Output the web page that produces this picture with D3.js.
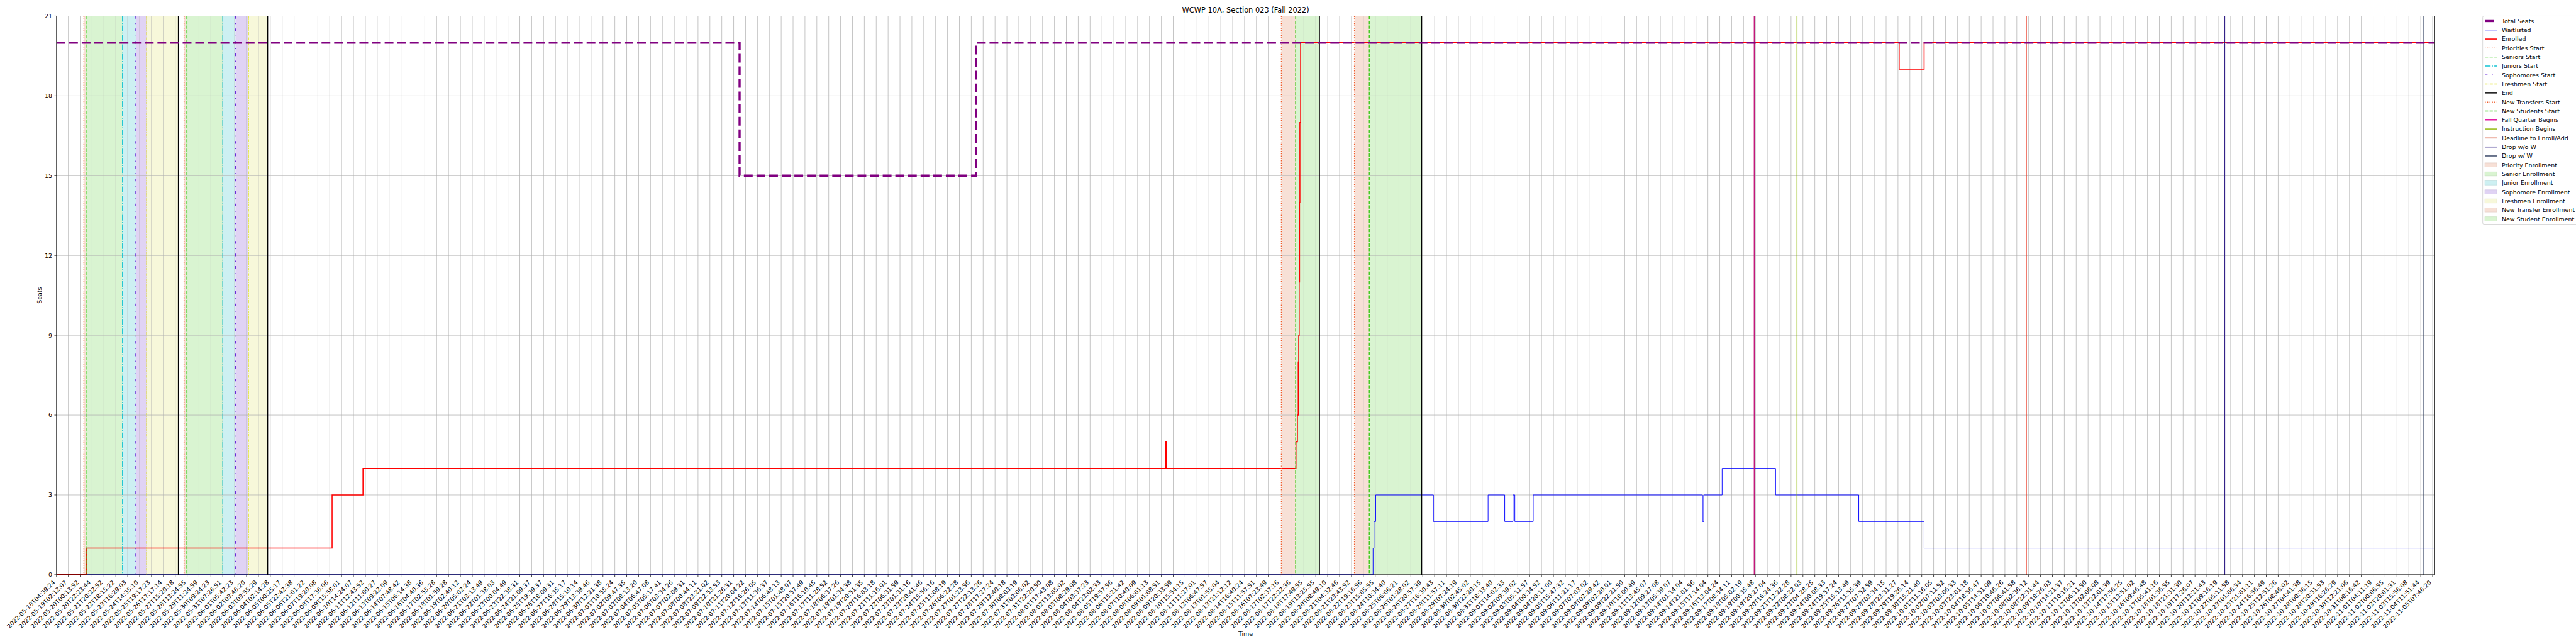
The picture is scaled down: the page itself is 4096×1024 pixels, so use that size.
<!DOCTYPE html>
<html><head><meta charset="utf-8">
<script src="https://cdn.jsdelivr.net/npm/d3@7"></script>
<style>html,body{margin:0;padding:0;background:#fff;overflow:hidden}</style>
</head><body>
<svg id="chart" width="4096" height="1024" viewBox="0 0 6000 1500"></svg>
<script>
// ---------------- DATA ----------------
const title = "WCWP 10A, Section 023 (Fall 2022)";
const tickLabels = [
"2022-05-18T04:39:24","2022-05-19T02:12:07","2022-05-20T00:13:52","2022-05-20T22:23:44","2022-05-21T20:22:52",
"2022-05-22T18:15:22","2022-05-23T16:29:03","2022-05-24T14:35:10","2022-05-25T19:17:23","2022-05-26T17:17:14",
"2022-05-27T15:20:18","2022-05-28T13:24:55","2022-05-29T11:24:59","2022-05-30T09:24:23","2022-05-31T07:26:51",
"2022-06-01T05:42:23","2022-06-02T03:46:20","2022-06-03T03:55:29","2022-06-04T02:14:28","2022-06-05T00:25:17",
"2022-06-05T22:42:38","2022-06-06T21:01:22","2022-06-07T19:20:08","2022-06-08T17:36:06","2022-06-09T15:58:01",
"2022-06-10T14:24:07","2022-06-11T12:43:52","2022-06-12T11:00:27","2022-06-13T09:22:09","2022-06-14T07:48:42",
"2022-06-15T06:14:38","2022-06-16T04:40:36","2022-06-17T02:55:28","2022-06-18T01:59:28","2022-06-19T02:40:12",
"2022-06-20T05:02:24","2022-06-21T03:13:49","2022-06-22T01:38:03","2022-06-23T00:04:49","2022-06-23T22:38:31",
"2022-06-24T21:09:37","2022-06-25T19:39:37","2022-06-26T18:09:31","2022-06-27T16:35:17","2022-06-28T15:10:14",
"2022-06-29T13:39:46","2022-06-30T12:21:38","2022-07-01T10:55:24","2022-07-02T09:47:35","2022-07-03T08:13:20",
"2022-07-04T06:47:08","2022-07-05T05:17:41","2022-07-06T03:34:26","2022-07-07T02:09:31","2022-07-08T00:44:11",
"2022-07-08T23:21:02","2022-07-09T22:53:53","2022-07-10T21:26:31","2022-07-11T20:04:22","2022-07-12T16:26:05",
"2022-07-13T11:36:37","2022-07-14T06:48:13","2022-07-15T01:48:07","2022-07-15T20:57:49","2022-07-16T16:10:45",
"2022-07-17T11:28:52","2022-07-18T06:37:26","2022-07-19T01:34:38","2022-07-19T20:51:35","2022-07-20T16:03:18",
"2022-07-21T11:16:01","2022-07-22T06:31:59","2022-07-23T01:31:16","2022-07-23T20:41:46","2022-07-24T15:56:16",
"2022-07-25T11:08:19","2022-07-26T06:22:28","2022-07-27T01:23:56","2022-07-27T22:13:26","2022-07-28T17:27:24",
"2022-07-29T12:40:18","2022-07-30T08:03:19","2022-07-31T03:06:02","2022-07-31T22:20:50","2022-08-01T17:43:08",
"2022-08-02T13:05:02","2022-08-03T08:29:08","2022-08-04T03:37:23","2022-08-04T23:02:33","2022-08-05T19:57:56",
"2022-08-06T15:21:42","2022-08-07T10:40:09","2022-08-08T06:01:13","2022-08-09T01:08:51","2022-08-09T20:33:59",
"2022-08-10T15:54:15","2022-08-11T11:27:01","2022-08-12T06:47:57","2022-08-13T01:55:04","2022-08-13T21:12:12",
"2022-08-14T16:40:24","2022-08-15T11:57:51","2022-08-16T07:23:49","2022-08-17T02:37:16","2022-08-17T22:22:36",
"2022-08-18T17:49:55","2022-08-19T13:25:55","2022-08-20T08:49:10","2022-08-21T04:32:46","2022-08-21T23:43:52",
"2022-08-22T19:16:56","2022-08-23T15:05:55","2022-08-24T10:34:40","2022-08-25T06:06:21","2022-08-26T01:28:02",
"2022-08-26T20:57:39","2022-08-27T16:30:43","2022-08-28T11:57:11","2022-08-29T07:24:19","2022-08-30T02:45:02",
"2022-08-30T22:20:15","2022-08-31T18:33:40","2022-09-01T14:02:33","2022-09-02T09:39:02","2022-09-03T05:11:57",
"2022-09-04T00:34:52","2022-09-04T20:11:00","2022-09-05T15:47:32","2022-09-06T11:21:17","2022-09-07T07:03:02",
"2022-09-08T02:29:42","2022-09-09T02:20:01","2022-09-09T22:21:50","2022-09-10T18:00:49","2022-09-11T13:45:07",
"2022-09-12T09:27:08","2022-09-13T05:39:07","2022-09-14T01:14:04","2022-09-14T21:01:56","2022-09-15T17:14:04",
"2022-09-16T13:04:24","2022-09-17T08:54:11","2022-09-18T05:02:19","2022-09-19T00:35:48","2022-09-19T20:27:04",
"2022-09-20T16:24:36","2022-09-21T12:22:28","2022-09-22T08:22:03","2022-09-23T04:28:25","2022-09-24T00:08:33",
"2022-09-24T19:57:24","2022-09-25T15:53:49","2022-09-26T11:55:39","2022-09-27T07:52:59","2022-09-28T03:34:15",
// the labels below are estimates (too small to read in the reference)
"2022-09-28T23:31:27","2022-09-29T19:26:14","2022-09-30T15:21:40","2022-10-01T11:16:05","2022-10-02T07:11:52",
"2022-10-03T03:06:33","2022-10-03T23:01:18","2022-10-04T18:56:47","2022-10-05T14:51:09","2022-10-06T10:46:26",
"2022-10-07T06:41:58","2022-10-08T02:36:12","2022-10-08T22:31:44","2022-10-09T18:26:03","2022-10-10T14:21:37",
"2022-10-11T10:16:21","2022-10-12T06:11:50","2022-10-13T02:06:08","2022-10-13T22:01:39","2022-10-14T17:56:25",
"2022-10-15T13:51:02","2022-10-16T09:46:48","2022-10-17T05:41:16","2022-10-18T01:36:55","2022-10-18T21:31:30",
"2022-10-19T17:26:07","2022-10-20T13:21:43","2022-10-21T09:16:19","2022-10-22T05:11:58","2022-10-23T01:06:34",
"2022-10-23T21:01:11","2022-10-24T16:56:49","2022-10-25T12:51:26","2022-10-26T08:46:02","2022-10-27T04:41:38",
"2022-10-28T00:36:15","2022-10-28T20:31:53","2022-10-29T16:26:29","2022-10-30T12:21:06","2022-10-31T08:16:42",
"2022-11-01T04:11:19","2022-11-02T00:06:55","2022-11-02T20:01:31","2022-11-03T15:56:08","2022-11-04T11:51:44",
"2022-11-05T07:46:20"
];
const xMax = 200.18;            // end of the data (in tick units)
const yTicks = [0, 3, 6, 9, 12, 15, 18, 21];

// step series: x = change points (tick units), y = value from that point on
const seatsX = [0, 57.5, 77.4];
const seatsY = [20, 15, 20];
const enrolledX = [0, 2.53, 23.2, 25.8, 93.35, 93.42, 104.33, 104.45, 104.52, 104.56, 104.6, 104.63, 104.66, 104.72, 155.1, 157.2];
const enrolledY = [0, 1, 3, 4, 5, 4, 5, 6, 8, 9, 11, 14, 17, 20, 19, 20];
const waitX = [0, 110.82, 110.9, 111.04, 115.9, 120.5, 121.9, 122.6, 122.75, 124.3, 138.55, 138.65, 140.2, 144.7, 151.7, 157.2];
const waitY = [0, 1, 2, 3, 2, 3, 2, 3, 2, 3, 2, 3, 4, 3, 2, 1];

// event lines (tick units)
const priorityStart = [2.31, 10.74];
const seniorsStart = [2.49, 10.91];
const juniorsStart = [5.56, 14.0];
const sophomoresStart = [6.68, 15.07];
const freshmenStart = [7.59, 16.16];
const endLines = [10.27, 17.77, 106.3, 114.9];
const newTransfersStart = [103.1, 109.25];
const newStudentsStart = [104.3, 110.5];
const fallQuarterBegins = [142.9];
const instructionBegins = [146.5];
const deadlineEnrollAdd = [165.8];
const dropNoW = [182.5];
const dropW = [199.2];

// shaded spans [start, end]
const prioritySpans = [[2.31, 2.49], [10.74, 10.91]];
const seniorSpans = [[2.49, 5.56], [10.91, 14.0]];
const juniorSpans = [[5.56, 6.68], [14.0, 15.07]];
const sophomoreSpans = [[6.68, 7.59], [15.07, 16.16]];
const freshmenSpans = [[7.59, 10.27], [16.16, 17.77]];
const newTransferSpans = [[103.1, 104.3], [109.25, 110.5]];
const newStudentSpans = [[104.3, 106.3], [110.5, 114.9]];

// ---------------- STYLE ----------------
const C = {
  seats: "#800080", wait: "#0000ff", enr: "#ff0000",
  prio: "#f05a28", sen: "#3fc91c", jun: "#12c3d3", soph: "#6a2bd9", fresh: "#e0e02a",
  end: "#000000", fall: "#c2187a", instr: "#8db600", dead: "#e8321e", dropNo: "#332288", dropW: "#2f3e5f",
  fPrio: "#f7e0d6", fSen: "#d9f4d1", fJun: "#cdf0f2", fSoph: "#e0d3f4", fFresh: "#f7f8da"
};
const FS = 13.9;
const L = 131.5, R = 5671, T = 37.3, B = 1338.7;

const svg = d3.select("#chart");
svg.append("rect").attr("width", 6000).attr("height", 1500).attr("fill", "#fff");

const x = d3.scaleLinear().domain([0, xMax]).range([L, R]);
const y = d3.scaleLinear().domain([0, 21]).range([B, T]);

const plot = svg.append("g");
plot.append("clipPath").attr("id", "clip").append("rect")
  .attr("x", L).attr("y", T).attr("width", R - L).attr("height", B - T);
const g = plot.append("g").attr("clip-path", "url(#clip)");

function spans(arr, color) {
  g.selectAll(null).data(arr).enter().append("rect")
    .attr("x", d => x(d[0])).attr("width", d => x(d[1]) - x(d[0]))
    .attr("y", T).attr("height", B - T).attr("fill", color);
}
spans(prioritySpans, C.fPrio); spans(seniorSpans, C.fSen); spans(juniorSpans, C.fJun);
spans(sophomoreSpans, C.fSoph); spans(freshmenSpans, C.fFresh);
spans(newTransferSpans, C.fPrio); spans(newStudentSpans, C.fSen);

const xt = d3.range(tickLabels.length);
g.selectAll(null).data(xt).enter().append("line")
  .attr("x1", d => x(d)).attr("x2", d => x(d)).attr("y1", T).attr("y2", B)
  .attr("stroke", "#b0b0b0").attr("stroke-width", 1.1);
g.selectAll(null).data(yTicks).enter().append("line")
  .attr("x1", L).attr("x2", R).attr("y1", d => y(d)).attr("y2", d => y(d))
  .attr("stroke", "#b0b0b0").attr("stroke-width", 1.1);

const lw = 2.08;
const dash = {
  dot: `${1*lw},${1.65*lw}`, dashed: `${3.7*lw},${1.6*lw}`, dashdot: `${6.4*lw},${1.6*lw},${1*lw},${1.6*lw}`,
  soph: `${3*lw},${5*lw},${1*lw},${5*lw}`, fresh: `${3*lw},${1*lw},${1*lw},${1*lw}`
};
function vlines(arr, color, da, w) {
  g.selectAll(null).data(arr).enter().append("line")
    .attr("x1", d => x(d)).attr("x2", d => x(d)).attr("y1", T).attr("y2", B)
    .attr("stroke", color).attr("stroke-width", w || lw).attr("stroke-dasharray", da);
}

function stepData(xs, ys) {
  const pts = xs.map((v, i) => [v, ys[i]]);
  pts.push([xMax, ys[ys.length - 1]]);
  return pts;
}
const line = d3.line().x(d => x(d[0])).y(d => y(d[1])).curve(d3.curveStepAfter);

g.append("path").datum(stepData(waitX, waitY)).attr("d", line)
  .attr("fill", "none").attr("stroke", C.wait).attr("stroke-width", 1.4);
g.append("path").datum(stepData(enrolledX, enrolledY)).attr("d", line)
  .attr("fill", "none").attr("stroke", C.enr).attr("stroke-width", 2.3);

vlines(priorityStart, C.prio, dash.dot); vlines(seniorsStart, C.sen, dash.dashed);
vlines(juniorsStart, C.jun, dash.dashdot); vlines(sophomoresStart, C.soph, dash.soph);
vlines(freshmenStart, C.fresh, dash.fresh); vlines(endLines, C.end, null, 2.6);
vlines(newTransfersStart, C.prio, dash.dot); vlines(newStudentsStart, C.sen, dash.dashed);
vlines(fallQuarterBegins, C.fall, null); vlines(instructionBegins, C.instr, null);
vlines(deadlineEnrollAdd, C.dead, null); vlines(dropNoW, C.dropNo, null); vlines(dropW, C.dropW, null);

g.append("path").datum(stepData(seatsX, seatsY)).attr("d", line)
  .attr("fill", "none").attr("stroke", C.seats).attr("stroke-width", 5).attr("stroke-dasharray", "20.5,8.9");

svg.append("rect").attr("x", L).attr("y", T).attr("width", R - L).attr("height", B - T)
  .attr("fill", "none").attr("stroke", "#000").attr("stroke-width", 1.1);

const font = "DejaVu Sans, sans-serif";
const xa = svg.append("g");
xa.selectAll(null).data(xt).enter().append("line")
  .attr("x1", d => x(d)).attr("x2", d => x(d)).attr("y1", B).attr("y2", B + 4.9)
  .attr("stroke", "#000").attr("stroke-width", 1.1);
xa.selectAll(null).data(xt).enter().append("text")
  .attr("transform", d => `translate(${x(d) - 2.3},${B + 9.8 + 9.1}) rotate(-45)`)
  .attr("text-anchor", "end").attr("font-family", font).attr("font-size", FS).attr("fill", "#000")
  .text(d => tickLabels[d]);

const ya = svg.append("g");
ya.selectAll(null).data(yTicks).enter().append("line")
  .attr("x1", L - 4.9).attr("x2", L).attr("y1", d => y(d)).attr("y2", d => y(d))
  .attr("stroke", "#000").attr("stroke-width", 1.1);
ya.selectAll(null).data(yTicks).enter().append("text")
  .attr("x", L - 9.8).attr("y", d => y(d)).attr("dy", "0.36em")
  .attr("text-anchor", "end").attr("font-family", font).attr("font-size", FS).text(d => d);

svg.append("text").attr("x", (L + R) / 2).attr("y", 29.3).attr("text-anchor", "middle")
  .attr("font-family", font).attr("font-size", 16.7).text(title);
svg.append("text").attr("x", (L + R) / 2).attr("y", 1481.5).attr("text-anchor", "middle")
  .attr("font-family", font).attr("font-size", FS).text("Time");
svg.append("text").attr("transform", `translate(97,${(T + B) / 2}) rotate(-90)`).attr("text-anchor", "middle")
  .attr("font-family", font).attr("font-size", FS).text("Seats");

const legendItems = [
  {label: "Total Seats", type: "line", color: C.seats, w: 5, da: "20.5,8.9"},
  {label: "Waitlisted", type: "line", color: C.wait, w: 1.4},
  {label: "Enrolled", type: "line", color: C.enr, w: 2.3},
  {label: "Priorities Start", type: "line", color: C.prio, da: dash.dot},
  {label: "Seniors Start", type: "line", color: C.sen, da: dash.dashed},
  {label: "Juniors Start", type: "line", color: C.jun, da: dash.dashdot},
  {label: "Sophomores Start", type: "line", color: C.soph, da: dash.soph},
  {label: "Freshmen Start", type: "line", color: C.fresh, da: dash.fresh},
  {label: "End", type: "line", color: C.end},
  {label: "New Transfers Start", type: "line", color: C.prio, da: dash.dot},
  {label: "New Students Start", type: "line", color: C.sen, da: dash.dashed},
  {label: "Fall Quarter Begins", type: "line", color: "#e0119d"},
  {label: "Instruction Begins", type: "line", color: C.instr},
  {label: "Deadline to Enroll/Add", type: "line", color: "#cc3311"},
  {label: "Drop w/o W", type: "line", color: C.dropNo},
  {label: "Drop w/ W", type: "line", color: C.dropW},
  {label: "Priority Enrollment", type: "patch", color: C.fPrio},
  {label: "Senior Enrollment", type: "patch", color: C.fSen},
  {label: "Junior Enrollment", type: "patch", color: C.fJun},
  {label: "Sophomore Enrollment", type: "patch", color: C.fSoph},
  {label: "Freshmen Enrollment", type: "patch", color: C.fFresh},
  {label: "New Transfer Enrollment", type: "patch", color: C.fPrio},
  {label: "New Student Enrollment", type: "patch", color: C.fSen}
];
const lg = svg.append("g");
const LX = 5782.7, LY = 37.3, rowH = 20.95, hx0 = 5787.7, hx1 = 5815.5, tx = 5827;
lg.append("rect").attr("x", LX).attr("y", LY).attr("width", 260).attr("height", 485)
  .attr("rx", 3).attr("fill", "#fff").attr("fill-opacity", 0.8).attr("stroke", "#cccccc").attr("stroke-width", 1.1);
legendItems.forEach((d, i) => {
  const cy = 49 + i * rowH;
  if (d.type === "line") {
    lg.append("line").attr("x1", hx0).attr("x2", hx1).attr("y1", cy).attr("y2", cy)
      .attr("stroke", d.color).attr("stroke-width", d.w || lw).attr("stroke-dasharray", d.da || null);
  } else {
    lg.append("rect").attr("x", hx0).attr("y", cy - 4.9).attr("width", hx1 - hx0).attr("height", 9.7)
      .attr("fill", d.color).attr("stroke", d3.color(d.color).darker(0.25)).attr("stroke-width", 1);
  }
  lg.append("text").attr("x", tx).attr("y", cy).attr("dy", "0.36em")
    .attr("font-family", font).attr("font-size", FS).text(d.label);
});
</script>
</body></html>
